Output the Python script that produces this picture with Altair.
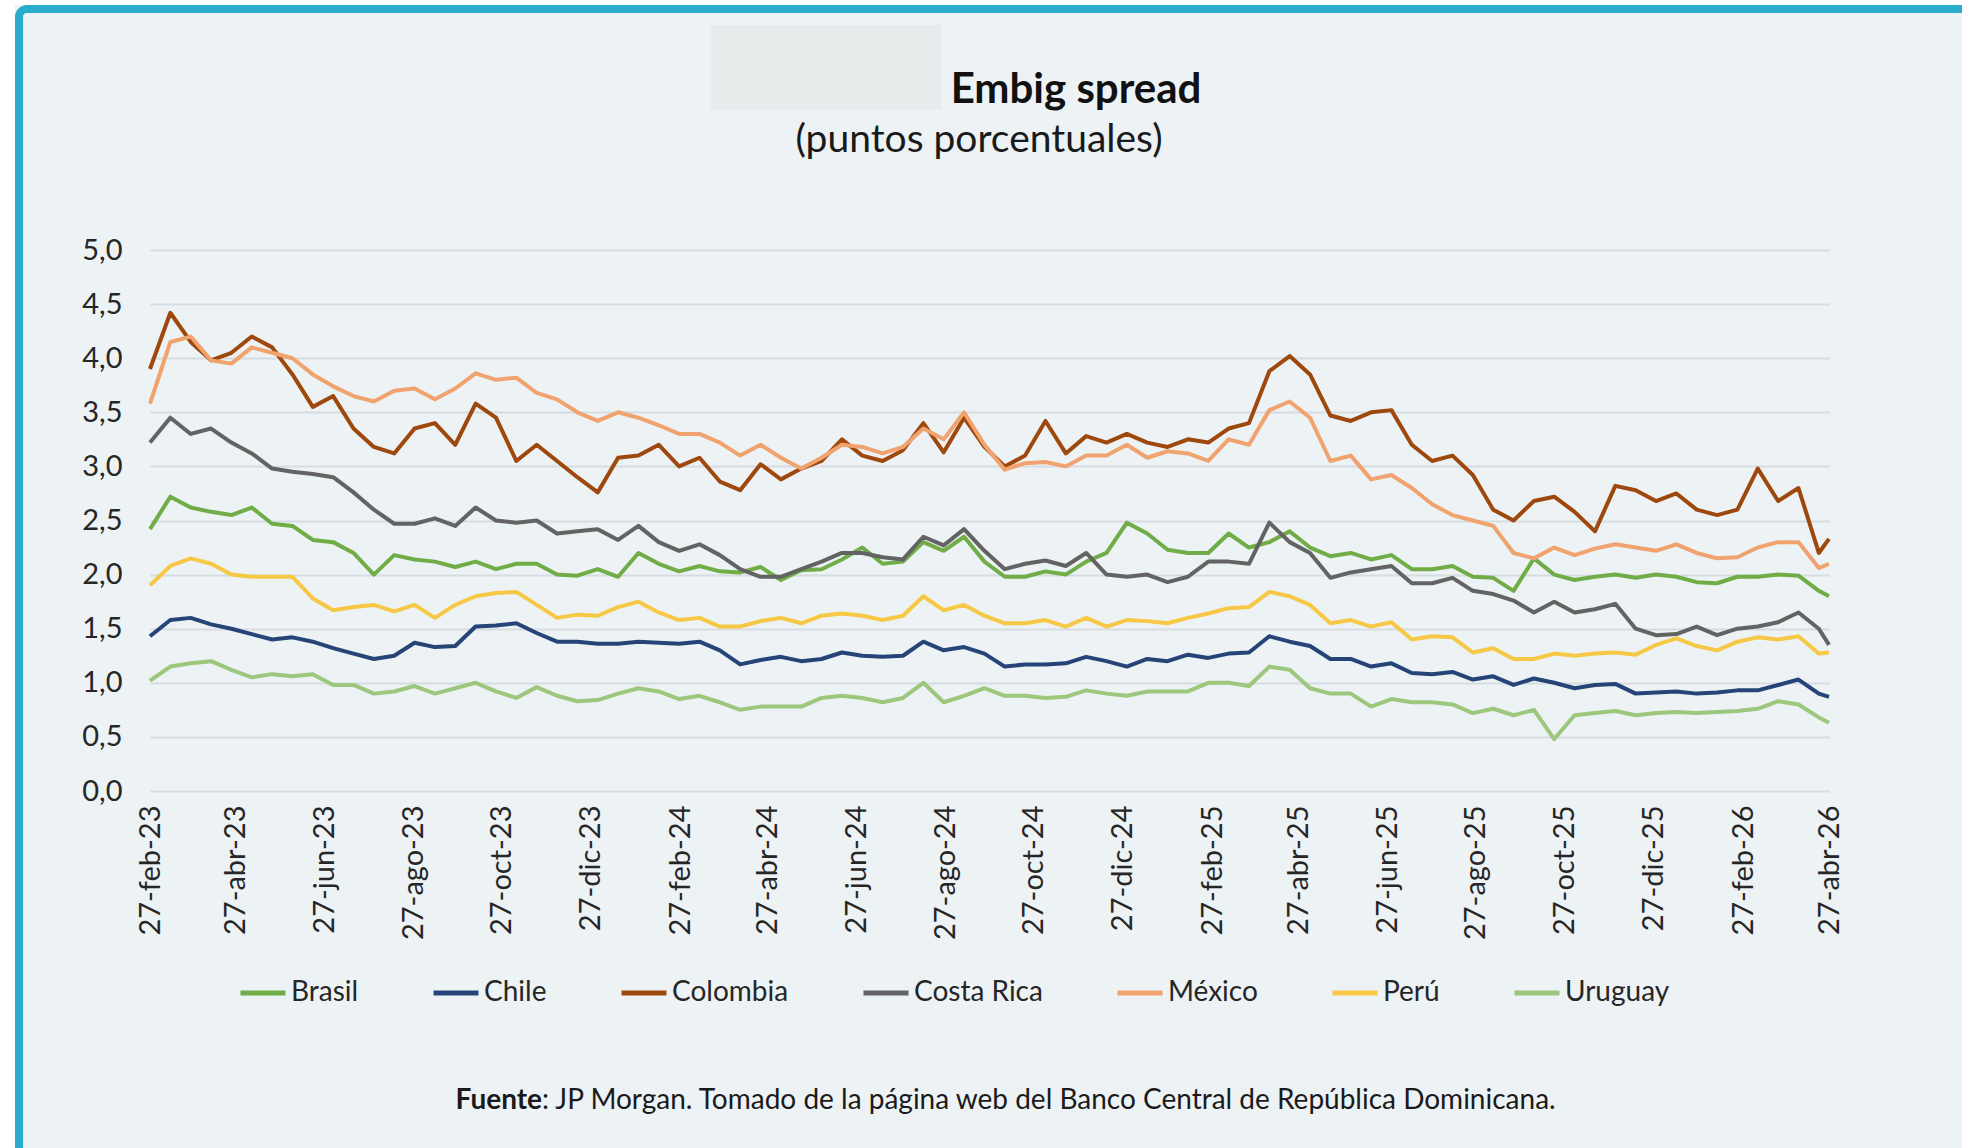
import altair as alt
import pandas as pd

START = "2023-02-27"
DAYS = list(range(0, 1155, 14)) + [1155]

COUNTRIES = ["Brasil", "Chile", "Colombia", "Costa Rica", "México", "Perú", "Uruguay"]
COLORS = ["#70AD47", "#264478", "#9E480E", "#636363", "#F0A36E", "#F6C845", "#9DC77C"]

brasil = [2.42, 2.72, 2.62, 2.58, 2.55, 2.62, 2.47, 2.45, 2.32, 2.3, 2.2, 2.0, 2.18, 2.14, 2.12, 2.07, 2.12, 2.05, 2.1, 2.1, 2.0, 1.99,
          2.05, 1.98, 2.2, 2.1, 2.03, 2.08, 2.03, 2.02, 2.07, 1.95, 2.04, 2.05, 2.14, 2.25, 2.1, 2.12, 2.3, 2.22, 2.35, 2.12, 1.98,
          1.98, 2.03, 2.0, 2.12, 2.2, 2.48, 2.38, 2.23, 2.2, 2.2, 2.38, 2.25, 2.3, 2.4, 2.25, 2.17, 2.2, 2.14, 2.18, 2.05, 2.05,
          2.08, 1.98, 1.97, 1.85, 2.15, 2.0, 1.95, 1.98, 2.0, 1.97, 2.0, 1.98, 1.93, 1.92, 1.98, 1.98, 2.0, 1.99, 1.85, 1.8]
chile = [1.43, 1.58, 1.6, 1.54, 1.5, 1.45, 1.4, 1.42, 1.38, 1.32, 1.27, 1.22, 1.25, 1.37, 1.33, 1.34, 1.52, 1.53, 1.55, 1.46, 1.38, 1.38,
         1.36, 1.36, 1.38, 1.37, 1.36, 1.38, 1.3, 1.17, 1.21, 1.24, 1.2, 1.22, 1.28, 1.25, 1.24, 1.25, 1.38, 1.3, 1.33, 1.27, 1.15,
         1.17, 1.17, 1.18, 1.24, 1.2, 1.15, 1.22, 1.2, 1.26, 1.23, 1.27, 1.28, 1.43, 1.38, 1.34, 1.22, 1.22, 1.15, 1.18, 1.09, 1.08,
         1.1, 1.03, 1.06, 0.98, 1.04, 1.0, 0.95, 0.98, 0.99, 0.9, 0.91, 0.92, 0.9, 0.91, 0.93, 0.93, 0.98, 1.03, 0.9, 0.87]
colombia = [3.9, 4.42, 4.15, 3.98, 4.05, 4.2, 4.1, 3.85, 3.55, 3.65, 3.35, 3.18, 3.12, 3.35, 3.4, 3.2, 3.58, 3.45, 3.05, 3.2, 3.05, 2.9,
            2.76, 3.08, 3.1, 3.2, 3.0, 3.08, 2.86, 2.78, 3.02, 2.88, 2.98, 3.05, 3.25, 3.1, 3.05, 3.15, 3.4, 3.13, 3.45, 3.18, 3.0,
            3.1, 3.42, 3.12, 3.28, 3.22, 3.3, 3.22, 3.18, 3.25, 3.22, 3.35, 3.4, 3.88, 4.02, 3.85, 3.47, 3.42, 3.5, 3.52, 3.2, 3.05,
            3.1, 2.92, 2.6, 2.5, 2.68, 2.72, 2.58, 2.4, 2.82, 2.78, 2.68, 2.75, 2.6, 2.55, 2.6, 2.98, 2.68, 2.8, 2.2, 2.33]
costa_rica = [3.22, 3.45, 3.3, 3.35, 3.22, 3.12, 2.98, 2.95, 2.93, 2.9, 2.76, 2.6, 2.47, 2.47, 2.52, 2.45, 2.62, 2.5, 2.48, 2.5, 2.38, 2.4,
              2.42, 2.32, 2.45, 2.3, 2.22, 2.28, 2.18, 2.05, 1.98, 1.98, 2.05, 2.12, 2.2, 2.2, 2.16, 2.14, 2.35, 2.27, 2.42, 2.22, 2.05,
              2.1, 2.13, 2.08, 2.2, 2.0, 1.98, 2.0, 1.93, 1.98, 2.12, 2.12, 2.1, 2.48, 2.3, 2.2, 1.97, 2.02, 2.05, 2.08, 1.92, 1.92,
              1.97, 1.85, 1.82, 1.76, 1.65, 1.75, 1.65, 1.68, 1.73, 1.5, 1.44, 1.45, 1.52, 1.44, 1.5, 1.52, 1.56, 1.65, 1.5, 1.35]
mexico = [3.58, 4.15, 4.2, 3.98, 3.95, 4.1, 4.05, 4.0, 3.85, 3.74, 3.65, 3.6, 3.7, 3.72, 3.62, 3.72, 3.86, 3.8, 3.82, 3.68, 3.62, 3.5,
          3.42, 3.5, 3.45, 3.38, 3.3, 3.3, 3.22, 3.1, 3.2, 3.08, 2.98, 3.08, 3.2, 3.18, 3.12, 3.18, 3.35, 3.25, 3.5, 3.2, 2.97,
          3.03, 3.04, 3.0, 3.1, 3.1, 3.2, 3.08, 3.14, 3.12, 3.05, 3.25, 3.2, 3.52, 3.6, 3.45, 3.05, 3.1, 2.88, 2.92, 2.8, 2.65,
          2.55, 2.5, 2.45, 2.2, 2.15, 2.25, 2.18, 2.24, 2.28, 2.25, 2.22, 2.28, 2.2, 2.15, 2.16, 2.25, 2.3, 2.3, 2.06, 2.1]
peru = [1.9, 2.08, 2.15, 2.1, 2.0, 1.98, 1.98, 1.98, 1.78, 1.67, 1.7, 1.72, 1.66, 1.72, 1.6, 1.72, 1.8, 1.83, 1.84, 1.72, 1.6, 1.63,
        1.62, 1.7, 1.75, 1.65, 1.58, 1.6, 1.52, 1.52, 1.57, 1.6, 1.55, 1.62, 1.64, 1.62, 1.58, 1.62, 1.8, 1.67, 1.72, 1.62, 1.55,
        1.55, 1.58, 1.52, 1.6, 1.52, 1.58, 1.57, 1.55, 1.6, 1.64, 1.69, 1.7, 1.84, 1.8, 1.72, 1.55, 1.58, 1.52, 1.56, 1.4, 1.43,
        1.42, 1.28, 1.32, 1.22, 1.22, 1.27, 1.25, 1.27, 1.28, 1.26, 1.35, 1.41, 1.34, 1.3, 1.38, 1.42, 1.4, 1.43, 1.27, 1.28]
uruguay = [1.02, 1.15, 1.18, 1.2, 1.12, 1.05, 1.08, 1.06, 1.08, 0.98, 0.98, 0.9, 0.92, 0.97, 0.9, 0.95, 1.0, 0.92, 0.86, 0.96, 0.88, 0.83,
           0.84, 0.9, 0.95, 0.92, 0.85, 0.88, 0.82, 0.75, 0.78, 0.78, 0.78, 0.86, 0.88, 0.86, 0.82, 0.86, 1.0, 0.82, 0.88, 0.95, 0.88,
           0.88, 0.86, 0.87, 0.93, 0.9, 0.88, 0.92, 0.92, 0.92, 1.0, 1.0, 0.97, 1.15, 1.12, 0.95, 0.9, 0.9, 0.78, 0.85, 0.82, 0.82,
           0.8, 0.72, 0.76, 0.7, 0.75, 0.48, 0.7, 0.72, 0.74, 0.7, 0.72, 0.73, 0.72, 0.73, 0.74, 0.76, 0.83, 0.8, 0.68, 0.63]

SERIES = [brasil, chile, colombia, costa_rica, mexico, peru, uruguay]

Y_TICKS = [0, 0.5, 1, 1.5, 2, 2.5, 3, 3.5, 4, 4.5, 5]
TICK_MONTHS = [(2023, m) for m in (2, 4, 6, 8, 10, 12)] + [(2024, m) for m in (2, 4, 6, 8, 10, 12)] + \
              [(2025, m) for m in (2, 4, 6, 8, 10, 12)] + [(2026, 2), (2026, 4)]
MONTHS_ES = ["ene", "feb", "mar", "abr", "may", "jun", "jul", "ago", "sep", "oct", "nov", "dic"]

TITLE = "Embig spread"
SUBTITLE = "(puntos porcentuales)"
SOURCE_BOLD = "Fuente"
SOURCE_REST = ": JP Morgan. Tomado de la página web del Banco Central de República Dominicana."

dates = [(pd.Timestamp(START) + pd.Timedelta(days=d)).strftime("%Y-%m-%d") for d in DAYS]
rows = []
for name, vals in zip(COUNTRIES, SERIES):
    assert len(vals) == len(dates), (name, len(vals))
    for d, v in zip(dates, vals):
        rows.append({"fecha": d, "pais": name, "valor": v})
df = pd.DataFrame(rows)

tick_values = [alt.DateTime(year=y, month=m, date=27, utc=True) for y, m in TICK_MONTHS]
months_js = "[" + ",".join("'%s'" % m for m in MONTHS_ES) + "]"
x_label_expr = "utcFormat(datum.value, '%d') + '-' + " + months_js + "[utcmonth(datum.value)] + '-' + utcFormat(datum.value, '%y')"

FONT = "Lato"
TXT = "#262626"
BG = "#EDF2F5"

lines = alt.Chart(df).mark_line(strokeWidth=4, strokeJoin="round").encode(
    x=alt.X("fecha:T",
            scale=alt.Scale(type="utc",
                            domain=[alt.DateTime(year=2023, month=2, date=27, utc=True),
                                    alt.DateTime(year=2026, month=4, date=27, utc=True)]),
            axis=alt.Axis(values=tick_values, labelExpr=x_label_expr, labelAngle=270,
                          labelFontSize=29, labelFont=FONT, labelColor=TXT, labelPadding=14,
                          ticks=False, domain=False, grid=False, title=None,
                          labelOverlap=False, labelFlush=False)),
    y=alt.Y("valor:Q",
            scale=alt.Scale(domain=[0, 5], nice=False),
            axis=alt.Axis(values=Y_TICKS, labelExpr="replace(format(datum.value, '.1f'), '.', ',')",
                          labelFontSize=29, labelFont=FONT, labelColor=TXT, labelPadding=28,
                          ticks=False, domain=False, gridColor="#D6DCE0", gridWidth=2, title=None)),
    color=alt.Color("pais:N",
                    scale=alt.Scale(domain=COUNTRIES, range=COLORS),
                    legend=alt.Legend(orient="none", legendX=88, legendY=718, direction="horizontal",
                                      columns=7, title=None, symbolType="stroke", symbolSize=2025,
                                      symbolStrokeWidth=5, labelFontSize=28, labelFont=FONT,
                                      labelColor=TXT, columnPadding=64, labelOffset=3)),
)

one = alt.Data(values=[{"k": 1}])

strip_top = alt.Chart(one).mark_rect(fill="#FFFFFF").encode(
    x=alt.value(-150), x2=alt.value(1812), y=alt.value(-250), y2=alt.value(-245))
strip_left = alt.Chart(one).mark_rect(fill="#FFFFFF").encode(
    x=alt.value(-150), x2=alt.value(-135), y=alt.value(-250), y2=alt.value(898))
frame = alt.Chart(one).mark_rect(fillOpacity=0, stroke="#29ADCB", strokeWidth=8, cornerRadius=8).encode(
    x=alt.value(-131), x2=alt.value(1850), y=alt.value(-241), y2=alt.value(940))

box = alt.Chart(one).mark_rect(fill="#E8EBEC").encode(
    x=alt.value(561), x2=alt.value(791), y=alt.value(-225), y2=alt.value(-140))

title = alt.Chart(one).mark_text(text=TITLE, font=FONT, fontSize=42, fontWeight="bold", color="#111111",
                                 align="center", baseline="middle").encode(x=alt.value(926), y=alt.value(-160))
subtitle = alt.Chart(one).mark_text(text=SUBTITLE, font=FONT, fontSize=39, color="#1a1a1a",
                                    align="center", baseline="middle").encode(x=alt.value(829), y=alt.value(-110))
src1 = alt.Chart(one).mark_text(text=SOURCE_BOLD, font=FONT, fontSize=28, fontWeight="bold", color="#1a1a1a",
                                align="right", baseline="middle").encode(x=alt.value(392), y=alt.value(851))
src2 = alt.Chart(one).mark_text(text=SOURCE_REST, font=FONT, fontSize=28, color="#1a1a1a",
                                align="left", baseline="middle").encode(x=alt.value(392), y=alt.value(851))

chart = alt.layer(strip_top, strip_left, frame, box, lines, title, subtitle, src1, src2).properties(
    width=1679, height=541,
    autosize=alt.AutoSizeParams(type="none"),
    padding={"left": 150, "top": 250, "right": 133, "bottom": 357},
    background=BG,
).configure_view(strokeWidth=0)

chart.save("out.html", embed_options={"renderer": "svg", "actions": False})
